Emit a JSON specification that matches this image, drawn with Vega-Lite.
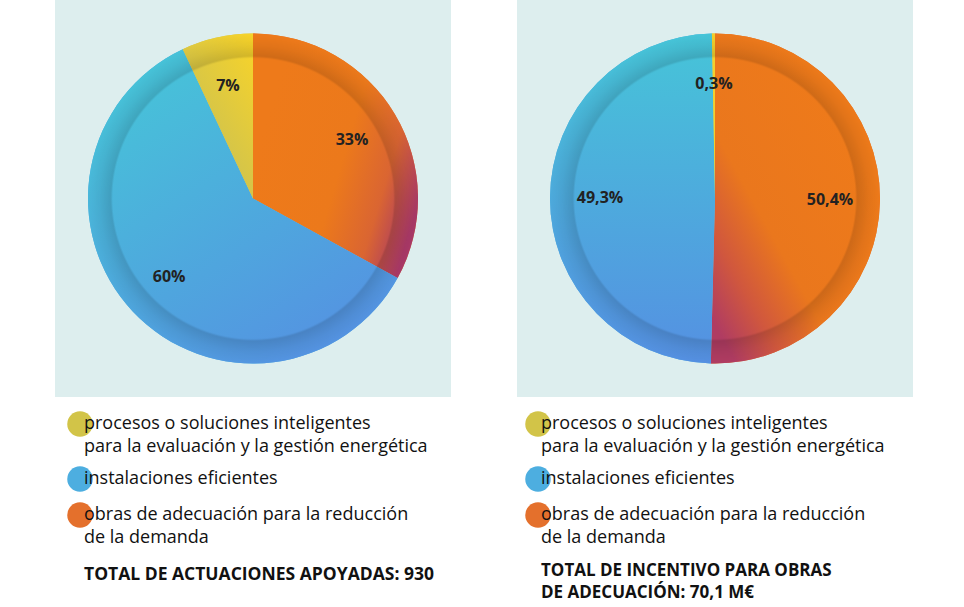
{
  "$schema": "https://vega.github.io/schema/vega-lite/v6.json",
  "background": "white",
  "padding": {"left": 55, "top": 0, "right": 5, "bottom": 6},
  "spacing": 66,
  "resolve": {"scale": {"color": "independent", "theta": "independent"}, "legend": {"color": "independent"}},
  "hconcat": [
    {
      "width": 396,
      "height": 397,
      "view": {"fill": "#ddeeee", "stroke": null},
      "data": {"values": [
        {"categoria": "obras de adecuación para la reducción de la demanda", "orden": 1, "pct": 0.33},
        {"categoria": "instalaciones eficientes", "orden": 2, "pct": 0.60},
        {"categoria": "procesos o soluciones inteligentes para la evaluación y la gestión energética", "orden": 3, "pct": 0.07}
      ]},
      "layer": [
        {
          "mark": {"type": "arc", "outerRadius": 165},
          "encoding": {
            "theta": {"field": "pct", "type": "quantitative", "stack": true},
            "order": {"field": "orden", "type": "ordinal"},
            "color": {
              "field": "categoria", "type": "nominal",
              "scale": {
                "domain": ["procesos o soluciones inteligentes para la evaluación y la gestión energética", "instalaciones eficientes", "obras de adecuación para la reducción de la demanda"],
                "range": ["#d2c448", "#4daee0", "#e4702c"]
              },
              "legend": {
                "orient": "none", "legendX": 12, "legendY": 411, "direction": "vertical",
                "title": "TOTAL DE ACTUACIONES APOYADAS: 930",
                "titleOrient": "bottom", "titleAnchor": "start", "titleFont": "Open Sans", "titleFontSize": 17.5, "titleFontWeight": "bold", "titleColor": "#111111", "titlePadding": 19, "titleLimit": 600,
                "labelFont": "Open Sans", "labelFontSize": 18, "labelColor": "#111111", "labelLimit": 600, "labelOffset": -9,
                "labelExpr": "split(replace(replace(datum.label, ' para la evaluación', '|para la evaluación'), ' de la demanda', '|de la demanda'), '|')",
                "symbolType": "circle", "symbolSize": 650, "symbolStrokeWidth": 0, "symbolOpacity": 1, "rowPadding": 10,
                "encode": {
                  "labels": {"update": {"lineHeight": {"value": 23}}},
                  "title": {"update": {"dx": {"value": 17}}}
                }
              }
            }
          }
        },
        {
          "mark": {"type": "arc", "outerRadius": 165},
          "encoding": {
            "theta": {"field": "pct", "type": "quantitative", "stack": true},
            "order": {"field": "orden", "type": "ordinal"},
            "fill": {
              "condition": [
                {"test": "datum.orden === 1", "value": {"gradient": "linear", "x1": 0.1, "y1": 0.3, "x2": 1, "y2": 0.7, "stops": [{"offset": 0, "color": "#ee7a1a"}, {"offset": 0.5, "color": "#ec791b"}, {"offset": 0.78, "color": "#da6532"}, {"offset": 1, "color": "#a83866"}]}},
                {"test": "datum.orden === 2", "value": {"gradient": "linear", "x1": 0.2, "y1": 0, "x2": 0.8, "y2": 1, "stops": [{"offset": 0, "color": "#46c5d8"}, {"offset": 1, "color": "#5590e2"}]}}
              ],
              "value": {"gradient": "linear", "x1": 1, "y1": 0, "x2": 0.3, "y2": 1, "stops": [{"offset": 0, "color": "#f9d428"}, {"offset": 1, "color": "#c2bd5a"}]}
            }
          }
        },
        {
          "transform": [{"aggregate": [{"op": "sum", "field": "pct", "as": "pct"}]}],
          "mark": {"type": "arc", "outerRadius": 165, "fill": {"gradient": "radial", "x1": 0.5, "y1": 0.5, "r1": 0, "x2": 0.5, "y2": 0.5, "r2": 0.5, "stops": [{"offset": 0, "color": "rgba(0,0,0,0)"}, {"offset": 0.85, "color": "rgba(0,0,0,0)"}, {"offset": 0.862, "color": "rgba(0,0,0,0.13)"}, {"offset": 0.93, "color": "rgba(0,0,0,0.05)"}, {"offset": 1, "color": "rgba(0,0,0,0)"}]}},
          "encoding": {
            "theta": {"field": "pct", "type": "quantitative", "stack": true}
          }
        },
        {
          "mark": {"type": "text", "radius": 115, "font": "Open Sans", "fontSize": 16, "fontWeight": "bold", "fill": "#222222"},
          "encoding": {
            "theta": {"field": "pct", "type": "quantitative", "stack": true},
            "order": {"field": "orden", "type": "ordinal"},
            "text": {"field": "pct", "type": "quantitative", "format": ".0%"}
          }
        }
      ]
    },
    {
      "width": 396,
      "height": 397,
      "view": {"fill": "#ddeeee", "stroke": null},
      "data": {"values": [
        {"categoria": "obras de adecuación para la reducción de la demanda", "orden": 1, "pct": 0.504},
        {"categoria": "instalaciones eficientes", "orden": 2, "pct": 0.493},
        {"categoria": "procesos o soluciones inteligentes para la evaluación y la gestión energética", "orden": 3, "pct": 0.003}
      ]},
      "layer": [
        {
          "mark": {"type": "arc", "outerRadius": 165},
          "encoding": {
            "theta": {"field": "pct", "type": "quantitative", "stack": true},
            "order": {"field": "orden", "type": "ordinal"},
            "color": {
              "field": "categoria", "type": "nominal",
              "scale": {
                "domain": ["procesos o soluciones inteligentes para la evaluación y la gestión energética", "instalaciones eficientes", "obras de adecuación para la reducción de la demanda"],
                "range": ["#d2c448", "#4daee0", "#e4702c"]
              },
              "legend": {
                "orient": "none", "legendX": 8, "legendY": 411, "direction": "vertical",
                "title": ["TOTAL DE INCENTIVO PARA OBRAS", "DE ADECUACIÓN: 70,1 M€"],
                "titleOrient": "bottom", "titleAnchor": "start", "titleFont": "Open Sans", "titleFontSize": 17, "titleFontWeight": "bold", "titleColor": "#111111", "titlePadding": 16, "titleLimit": 600, "titleLineHeight": 22,
                "labelFont": "Open Sans", "labelFontSize": 18, "labelColor": "#111111", "labelLimit": 600, "labelOffset": -10,
                "labelExpr": "split(replace(replace(datum.label, ' para la evaluación', '|para la evaluación'), ' de la demanda', '|de la demanda'), '|')",
                "symbolType": "circle", "symbolSize": 650, "symbolStrokeWidth": 0, "symbolOpacity": 1, "rowPadding": 10,
                "encode": {
                  "labels": {"update": {"lineHeight": {"value": 23}}},
                  "title": {"update": {"dx": {"value": 16}}}
                }
              }
            }
          }
        },
        {
          "mark": {"type": "arc", "outerRadius": 165},
          "encoding": {
            "theta": {"field": "pct", "type": "quantitative", "stack": true},
            "order": {"field": "orden", "type": "ordinal"},
            "fill": {
              "condition": [
                {"test": "datum.orden === 1", "value": {"gradient": "linear", "x1": 0.8, "y1": 0.3, "x2": 0.15, "y2": 1, "stops": [{"offset": 0, "color": "#ee7a1a"}, {"offset": 0.55, "color": "#ea771d"}, {"offset": 0.8, "color": "#d0573e"}, {"offset": 1, "color": "#b03c62"}]}},
                {"test": "datum.orden === 2", "value": {"gradient": "linear", "x1": 0.5, "y1": 0, "x2": 0.5, "y2": 1, "stops": [{"offset": 0, "color": "#46c5d8"}, {"offset": 1, "color": "#5590e2"}]}}
              ],
              "value": "#f3d02c"
            }
          }
        },
        {
          "transform": [{"aggregate": [{"op": "sum", "field": "pct", "as": "pct"}]}],
          "mark": {"type": "arc", "outerRadius": 165, "fill": {"gradient": "radial", "x1": 0.5, "y1": 0.5, "r1": 0, "x2": 0.5, "y2": 0.5, "r2": 0.5, "stops": [{"offset": 0, "color": "rgba(0,0,0,0)"}, {"offset": 0.85, "color": "rgba(0,0,0,0)"}, {"offset": 0.862, "color": "rgba(0,0,0,0.13)"}, {"offset": 0.93, "color": "rgba(0,0,0,0.05)"}, {"offset": 1, "color": "rgba(0,0,0,0)"}]}},
          "encoding": {
            "theta": {"field": "pct", "type": "quantitative", "stack": true}
          }
        },
        {
          "mark": {"type": "text", "radius": 115, "font": "Open Sans", "fontSize": 16, "fontWeight": "bold", "fill": "#222222"},
          "encoding": {
            "theta": {"field": "pct", "type": "quantitative", "stack": true},
            "order": {"field": "orden", "type": "ordinal"},
            "text": {"field": "pct", "type": "quantitative", "format": ".1%"}
          }
        }
      ]
    }
  ],
  "config": {
    "view": {"fill": "#ddeeee", "stroke": null},
    "locale": {"number": {"decimal": ",", "thousands": ".", "grouping": [3], "currency": ["", " €"]}}
  }
}
